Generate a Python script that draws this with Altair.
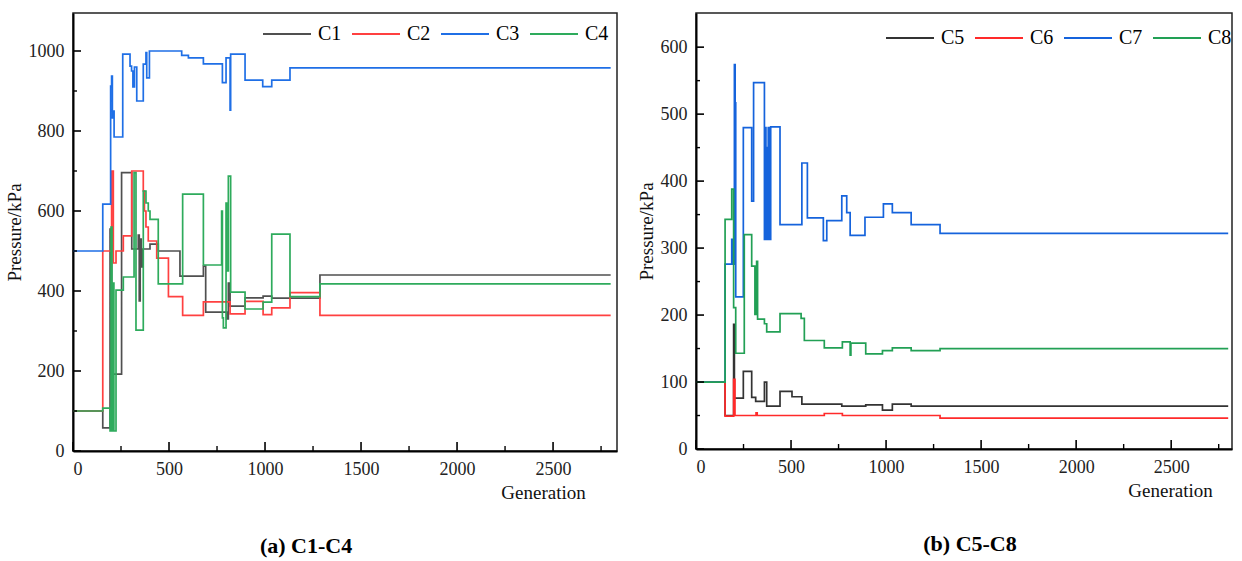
import altair as alt
import pandas as pd

# ---------------- data ----------------
# Panel (a)
GEN_C1 = [0, 155, 193, 201, 253, 306, 340, 345, 350, 355, 362, 401, 444, 557, 679, 691, 800, 809, 818, 896, 990, 1035, 1286, 2800]
VAL_C1 = [100, 58, 555, 192, 696, 505, 540, 375, 530, 460, 505, 517, 500, 437, 462, 347, 330, 420, 362, 383, 387, 382, 440, 440]

GEN_C2 = [0, 155, 201, 210, 224, 262, 306, 366, 372, 380, 392, 436, 497, 571, 679, 818, 896, 990, 1035, 1130, 1286, 2800]
VAL_C2 = [100, 500, 700, 470, 500, 538, 700, 650, 600, 560, 525, 482, 386, 339, 373, 343, 374, 341, 358, 396, 339, 339]

GEN_C3 = [0, 155, 196, 201, 205, 210, 214, 259, 297, 305, 312, 320, 332, 366, 380, 384, 398, 566, 601, 679, 778, 797, 818, 821, 896, 988, 1035, 1130, 2800]
VAL_C3 = [500, 617, 912, 937, 833, 850, 785, 992, 962, 950, 910, 960, 875, 967, 996, 933, 1000, 989, 983, 968, 921, 983, 852, 992, 927, 911, 927, 958, 958]

GEN_C4 = [0, 155, 193, 198, 203, 208, 213, 224, 262, 318, 328, 366, 380, 392, 401, 444, 571, 679, 774, 778, 783, 797, 800, 809, 821, 896, 990, 1035, 1130, 1286, 2800]
VAL_C4 = [100, 107, 50, 560, 50, 420, 50, 402, 435, 696, 302, 650, 620, 600, 579, 418, 642, 465, 600, 333, 308, 620, 450, 687, 397, 355, 372, 542, 386, 418, 418]

# Panel (b)
GEN_C5 = [0, 153, 198, 202, 249, 293, 314, 360, 372, 442, 505, 557, 767, 893, 981, 1033, 1132, 2800]
VAL_C5 = [100, 50, 186, 76, 116, 77, 71, 100, 64, 86, 78, 67, 64, 66, 58, 67, 64, 64]

GEN_C6 = [0, 153, 198, 205, 316, 322, 675, 770, 1284, 2800]
VAL_C6 = [100, 49, 104, 50, 54, 50, 53, 50, 46, 46]

GEN_C7 = [0, 153, 188, 195, 202, 206, 209, 249, 293, 303, 360, 364, 368, 372, 376, 380, 384, 393, 442, 557, 586, 670, 688, 767, 793, 811, 889, 986, 1033, 1132, 1284, 2800]
VAL_C7 = [100, 276, 313, 276, 574, 517, 227, 480, 370, 547, 313, 480, 313, 450, 313, 480, 313, 481, 335, 427, 345, 311, 341, 378, 353, 319, 346, 366, 353, 335, 322, 322]

GEN_C8 = [0, 153, 188, 198, 209, 254, 293, 310, 319, 324, 360, 372, 442, 553, 570, 675, 770, 811, 815, 893, 981, 1033, 1132, 1284, 2800]
VAL_C8 = [100, 343, 388, 211, 143, 320, 273, 201, 280, 194, 187, 175, 202, 195, 162, 151, 160, 140, 158, 142, 147, 151, 147, 150, 150]

SERIES_A = ["C1", "C2", "C3", "C4"]
SERIES_B = ["C5", "C6", "C7", "C8"]
COLORS_A = ["#505050", "#ff4040", "#1f6fe6", "#2eab5c"]
COLORS_B = ["#333333", "#ff2a2a", "#1563dc", "#22a055"]

X_TICKS = [0, 500, 1000, 1500, 2000, 2500]
X_MINOR = [250, 750, 1250, 1750, 2250, 2750]
Y_TICKS_A = [0, 200, 400, 600, 800, 1000]
Y_MINOR_A = [100, 300, 500, 700, 900]
Y_TICKS_B = [0, 100, 200, 300, 400, 500, 600]
Y_MINOR_B = [50, 150, 250, 350, 450, 550]

FONT = "Liberation Serif"


def frame(series, gens, vals):
    rows = []
    for s, g, v in zip(series, gens, vals):
        for gi, vi in zip(g, v):
            rows.append({"series": s, "gen": gi, "val": vi})
    return pd.DataFrame(rows)


def panel(df, series, colors, xdom, ydom, yticks, yminor, W, H, legx, legy, caption, cap_dx, title_x):
    xs = alt.Scale(domain=xdom, nice=False, zero=False)
    ys = alt.Scale(domain=ydom, nice=False, zero=False)
    xax = alt.Axis(values=X_TICKS, title="Generation", ticks=False, labelPadding=9, format="d",
                   titleX=title_x, titleY=41, titleAlign="center", titleBaseline="middle")
    yax = alt.Axis(values=yticks, title="Pressure/kPa", ticks=False, labelPadding=9, format="d",
                   titlePadding=4)
    lines = alt.Chart(df).mark_line(interpolate="step-after", strokeWidth=1.7, clip=True).encode(
        x=alt.X("gen:Q", scale=xs, axis=xax),
        y=alt.Y("val:Q", scale=ys, axis=yax),
        color=alt.Color("series:N", scale=alt.Scale(domain=series, range=colors), legend=alt.Legend(
            orient="none", legendX=legx, legendY=legy, direction="horizontal", columns=4,
            title=None, symbolType="stroke", symbolSize=2304, symbolStrokeWidth=2,
            labelFont=FONT, labelFontSize=20, labelColor="black", labelOffset=6, columnPadding=6)),
        detail="series:N",
    )
    ymaj = alt.Chart(pd.DataFrame({"val": yticks})).mark_rule(color="black", strokeWidth=1.6).encode(
        y=alt.Y("val:Q", scale=ys, axis=yax), x=alt.value(0), x2=alt.value(8))
    ymin = alt.Chart(pd.DataFrame({"val": yminor})).mark_rule(color="black", strokeWidth=1.4).encode(
        y=alt.Y("val:Q", scale=ys, axis=yax), x=alt.value(0), x2=alt.value(4))
    xmaj = alt.Chart(pd.DataFrame({"gen": X_TICKS})).mark_rule(color="black", strokeWidth=1.6).encode(
        x=alt.X("gen:Q", scale=xs, axis=xax), y=alt.value(H), y2=alt.value(H - 9))
    xmin = alt.Chart(pd.DataFrame({"gen": X_MINOR})).mark_rule(color="black", strokeWidth=1.4).encode(
        x=alt.X("gen:Q", scale=xs, axis=xax), y=alt.value(H), y2=alt.value(H - 5))
    return alt.layer(lines, ymaj, ymin, xmaj, xmin).properties(
        width=W, height=H,
        title=alt.TitleParams(caption, orient="bottom", anchor="middle", frame="group", dx=cap_dx,
                              offset=34, font=FONT, fontSize=22, fontWeight="bold", color="black"),
    )


df_a = frame(SERIES_A, [GEN_C1, GEN_C2, GEN_C3, GEN_C4], [VAL_C1, VAL_C2, VAL_C3, VAL_C4])
df_b = frame(SERIES_B, [GEN_C5, GEN_C6, GEN_C7, GEN_C8], [VAL_C5, VAL_C6, VAL_C7, VAL_C8])

left = panel(df_a, SERIES_A, COLORS_A, [0, 2833], [0, 1095], Y_TICKS_A, Y_MINOR_A, 544, 438, 189, -4,
             "(a) C1-C4", -39, 470)
right = panel(df_b, SERIES_B, COLORS_B, [0, 2820], [0, 651], Y_TICKS_B, Y_MINOR_B, 536, 436, 189, 0,
              "(b) C5-C8", 6, 474)

chart = alt.hconcat(left, right, spacing=18).resolve_scale(
    color="independent", x="independent", y="independent"
).properties(
    padding={"left": 4, "top": 8, "right": 5, "bottom": 2}, background="white"
).configure_view(stroke="#222222", strokeWidth=1.5).configure_axis(
    grid=False, domainColor="black", domainWidth=2,
    labelFont=FONT, labelFontSize=18, labelColor="#222222",
    titleFont=FONT, titleFontSize=19, titleFontWeight="normal", titleColor="#111111",
)

chart.save("out.html", embed_options={"renderer": "svg", "actions": False})
